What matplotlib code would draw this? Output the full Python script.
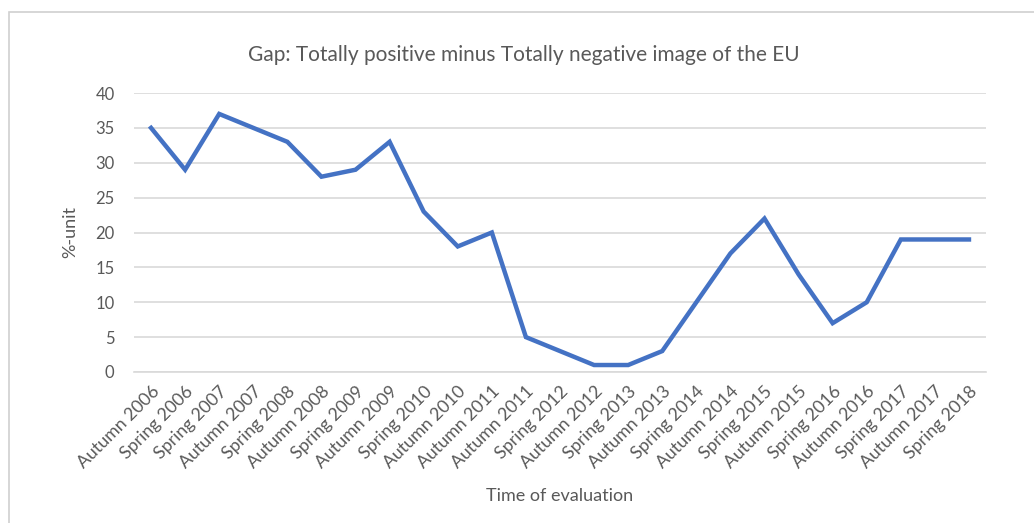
import matplotlib
matplotlib.use("Agg")
import matplotlib.pyplot as plt
from matplotlib.patches import Rectangle

# === Data ===
periods = [
    "Autumn 2006", "Spring 2006", "Spring 2007", "Autumn 2007", "Spring 2008",
    "Autumn 2008", "Spring 2009", "Autumn 2009", "Spring 2010", "Autumn 2010",
    "Autumn 2011", "Autumn 2011", "Spring 2012", "Autumn 2012", "Spring 2013",
    "Autumn 2013", "Spring 2014", "Autumn 2014", "Spring 2015", "Autumn 2015",
    "Spring 2016", "Autumn 2016", "Spring 2017", "Autumn 2017", "Spring 2018",
]
gap = [35, 29, 37, 35, 33, 28, 29, 33, 23, 18, 20, 5, 3, 1, 1,
       3, 10, 17, 22, 14, 7, 10, 19, 19, 19]
y_ticks = [0, 5, 10, 15, 20, 25, 30, 35, 40]

text_color = "#595959"
plt.rcParams["font.family"] = ["Lato", "DejaVu Sans"]

fig = plt.figure(figsize=(10.34, 5.23), dpi=100)
ax = fig.add_axes([134 / 1034, 1 - 372 / 523, (986 - 134) / 1034, (372 - 93) / 523])

# outer chart frame
fig.patches.append(Rectangle((9 / 1034, -0.1), 1.2, 1 - 12 / 523 + 0.1,
                             transform=fig.transFigure, fill=False,
                             edgecolor="#D0D0D0", linewidth=1.2))

x = list(range(len(periods)))
ax.plot(x, gap, color="#4472C4", linewidth=3.2, solid_joinstyle="miter")

ax.set_xlim(-0.5, len(periods) - 0.5)
ax.set_ylim(0, 40)
ax.set_yticks(y_ticks)
ax.yaxis.grid(True, color="#D9D9D9", linewidth=1.2)
ax.set_axisbelow(True)
for s in ax.spines.values():
    s.set_visible(False)
ax.spines["bottom"].set_visible(True)
ax.spines["bottom"].set_color("#D9D9D9")
ax.spines["bottom"].set_linewidth(1.2)

ax.set_xticks(x)
ax.set_xticklabels(periods, rotation=45, ha="right", rotation_mode="anchor")
ax.tick_params(axis="both", length=0, colors=text_color, labelsize=12)
ax.tick_params(axis="x", labelsize=12.8, pad=8)
ax.tick_params(axis="y", pad=14)

ax.set_ylabel("%-unit", color=text_color, fontsize=13, labelpad=12)
ax.set_xlabel("Time of evaluation", color=text_color, fontsize=13, labelpad=12)
fig.text(0.507, 1 - 55 / 523, "Gap: Totally positive minus Totally negative image of the EU",
         ha="center", va="center", color=text_color, fontsize=15)

fig.savefig("out.png", dpi=100, facecolor="white")
